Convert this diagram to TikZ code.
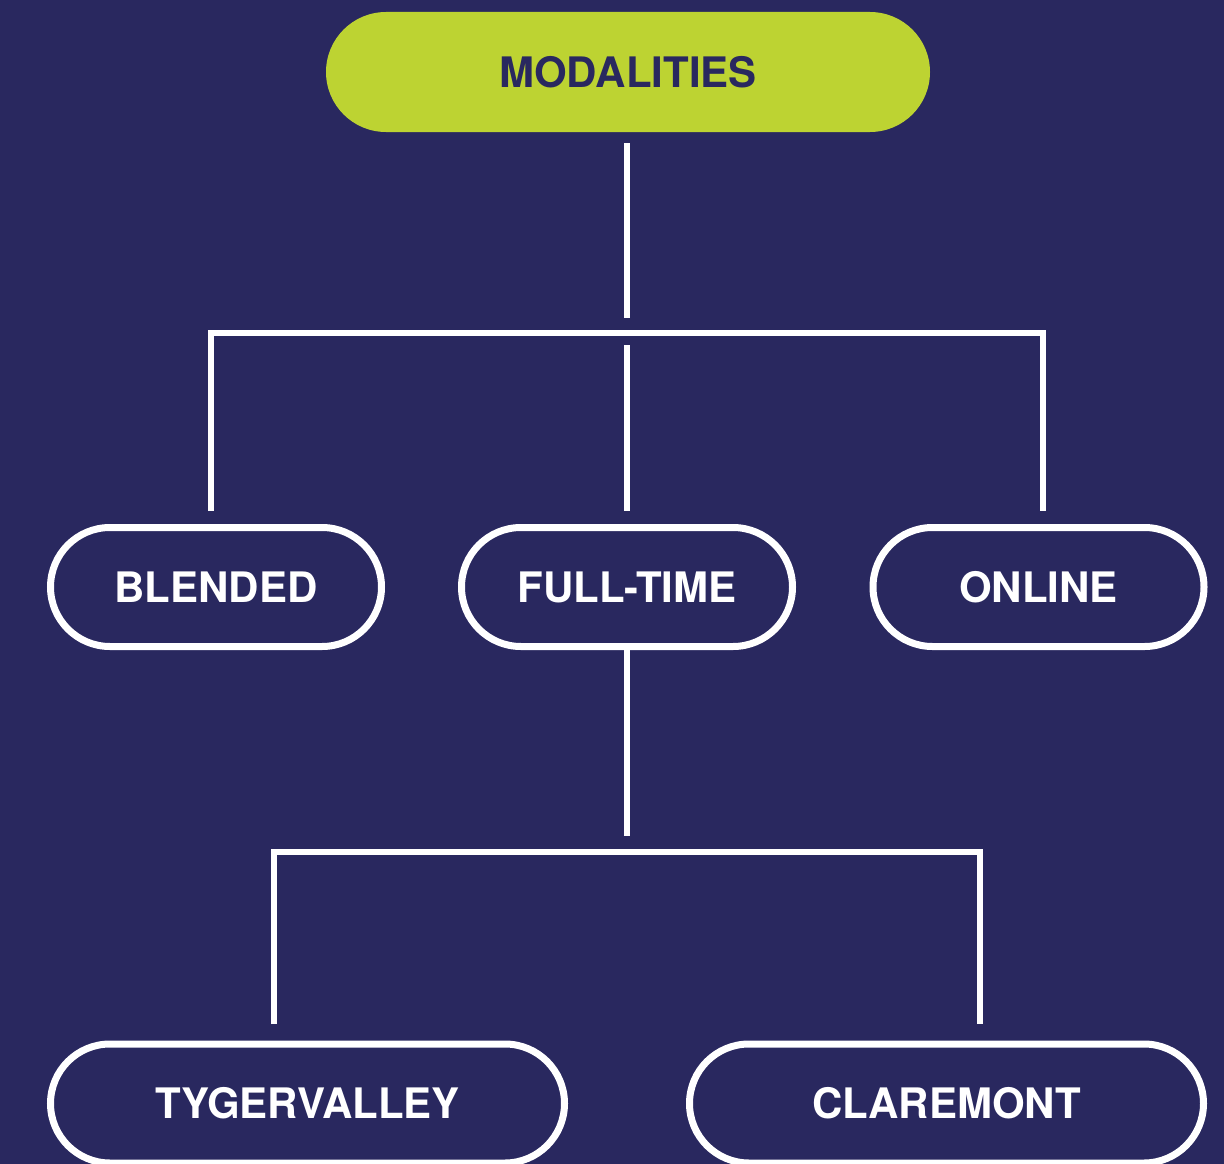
\documentclass[tikz,border=0pt]{standalone}
\usepackage{fontspec}
\setmainfont{TeX Gyre Heros}
\definecolor{bgblue}{HTML}{29285F}
\definecolor{lime}{HTML}{BDD332}
\begin{document}
\begin{tikzpicture}[x=1pt,y=-1pt,
  pill/.style={rectangle, rounded corners=59.5pt, minimum height=119pt, inner sep=0pt,
    font=\fontsize{42}{42}\selectfont\bfseries},
  outl/.style={pill, draw=white, line width=7pt, fill=bgblue, text=white},
  topbox/.style={pill, fill=lime, text=bgblue, minimum height=120pt, rounded corners=60pt},
  conn/.style={draw=white, line width=6pt, miter limit=10}]
\useasboundingbox (0,0) rectangle (1224,1164);
\fill[bgblue] (0,0) rectangle (1224,1164);
\begin{scope}
\clip (0,0) rectangle (1224,1164);
\node[topbox, minimum width=604pt] (top) at (628,72) {MODALITIES};
\node[outl, minimum width=331pt] (blended) at (216,587) {BLENDED};
\node[outl, minimum width=331pt] (fulltime) at (627,587) {FULL-TIME};
\node[outl, minimum width=331pt] (online) at (1038.5,587) {ONLINE};
\node[outl, minimum width=514pt] (tyger) at (307.5,1103.5) {TYGERVALLEY};
\node[outl, minimum width=514pt] (clare) at (946.5,1103.5) {CLAREMONT};

\coordinate (t1) at (627,143);
\coordinate (t2) at (627,318);
\coordinate (bl) at (211,511);
\coordinate (on) at (1043,511);
\coordinate (m1) at (627,345);
\coordinate (m2) at (627,511);
\coordinate (f2) at (627,836);
\coordinate (ty) at (274,1024);
\coordinate (cl) at (980,1024);

\draw[conn] (t1) -- (t2);
\draw[conn] (bl) |- (on |- 0,333) -- (on);
\draw[conn] (m1) -- (m2);
\draw[conn] (fulltime.south) -- (f2);
\draw[conn] (ty) |- (cl |- 0,852) -- (cl);
\end{scope}
\end{tikzpicture}
\end{document}
